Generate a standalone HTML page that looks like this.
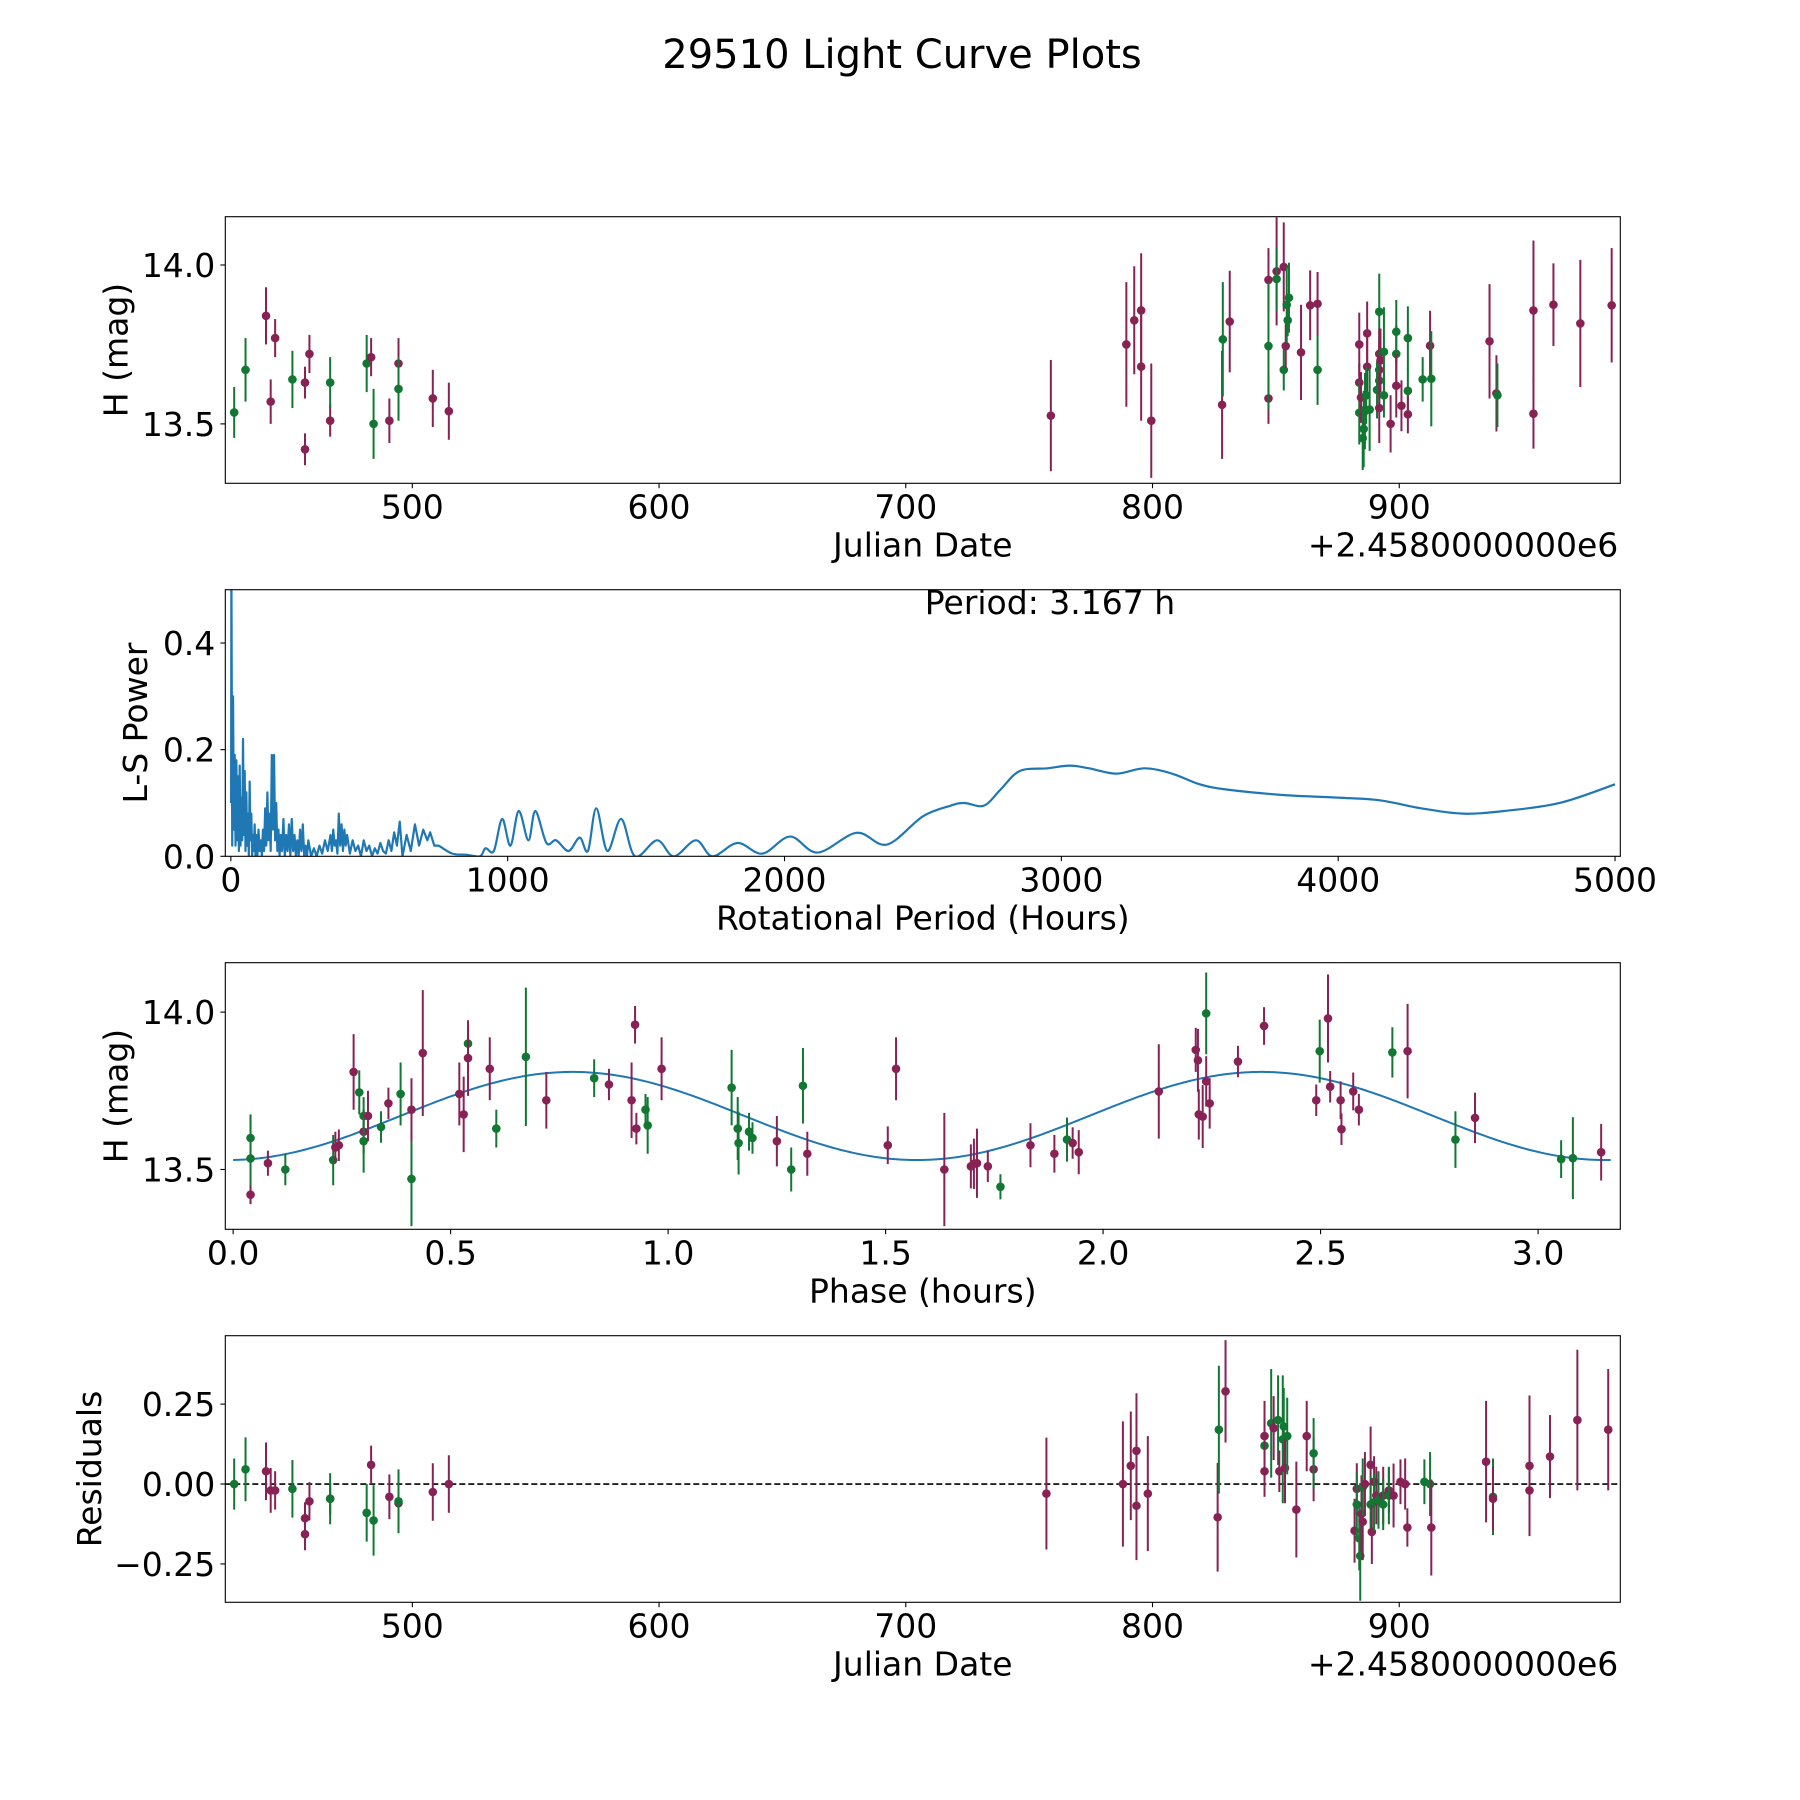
<!DOCTYPE html>
<html><head><meta charset="utf-8"><title>29510 Light Curve Plots</title>
<style>
html,body{margin:0;padding:0;background:#fff;}
svg{display:block;font-family:"DejaVu Sans","Liberation Sans",sans-serif;}
</style></head>
<body>
<svg id="fig" width="1800" height="1800" viewBox="0 0 1800 1800" xmlns="http://www.w3.org/2000/svg">
<rect x="0" y="0" width="1800" height="1800" fill="#fff"/>
<text x="902" y="68" font-size="40" text-anchor="middle">29510 Light Curve Plots</text>
</svg>
<script>
// ---------- Panel 1: H vs Julian Date ----------
const jd1 = [427.8,432.4,440.7,442.6,444.4,451.4,456.5,456.5,458.3,466.7,466.7,481.5,483.3,484.3,490.7,494.4,494.4,508.3,514.8,
758.8,789.4,792.6,795.4,795.4,799.5,828.2,828.5,831.3,847,847,847,850.3,850.3,853.2,853.2,854.0,854.4,855.3,854.8,860.2,863.9,866.9,866.9,
883.8,883.8,883.8,884.5,885.2,885.6,886.1,887,887,886.6,888,891.9,891.9,891.9,891.9,891,892.4,891.9,893.8,893.8,896.5,898.8,898.8,898.8,900.9,903.5,903.5,903.5,909.5,912.5,913,
936.6,939.4,939.8,954.4,954.4,962.5,973.4,986.1];
const mag1 = [13.536,13.67,13.84,13.57,13.77,13.64,13.42,13.63,13.72,13.51,13.63,13.69,13.71,13.50,13.51,13.69,13.61,13.58,13.54,
13.526,13.75,13.826,13.857,13.68,13.51,13.56,13.766,13.822,13.953,13.58,13.745,13.98,13.956,13.994,13.67,13.745,13.875,13.897,13.826,13.725,13.873,13.878,13.67,
13.75,13.63,13.535,13.583,13.455,13.484,13.54,13.785,13.68,13.59,13.545,13.853,13.72,13.67,13.636,13.607,13.70,13.55,13.727,13.59,13.50,13.79,13.72,13.62,13.557,13.77,13.604,13.53,13.64,13.746,13.642,
13.76,13.596,13.59,13.857,13.532,13.875,13.816,13.873];
const err1 = [0.08,0.1,0.09,0.07,0.06,0.09,0.05,0.05,0.06,0.05,0.08,0.09,0.06,0.11,0.07,0.08,0.1,0.09,0.09,
0.175,0.196,0.17,0.18,0.17,0.18,0.17,0.18,0.16,0.1,0.08,0.2,0.17,0.1,0.14,0.065,0.07,0.12,0.11,0.05,0.15,0.11,0.1,0.11,
0.1,0.06,0.1,0.08,0.1,0.12,0.12,0.1,0.09,0.09,0.13,0.12,0.08,0.09,0.09,0.09,0.1,0.11,0.14,0.07,0.09,0.1,0.09,0.1,0.08,0.1,0.07,0.06,0.07,0.11,0.15,
0.18,0.12,0.1,0.22,0.11,0.13,0.2,0.18];
const col1 = "ggmmmgmmmmgg mgmmgmm mmmmmmmgmmmgmgmgmgggmmmg mmgmgggmmgggmmggmmggmggmmggmgm gmmgmmmm".replace(/ /g,"");

// ---------- Panel 2: Lomb-Scargle periodogram ----------
const per2 = [1,2,5,8,11,14,17,20,23,26,29,32,35,38,41,44,47,50,53,56,59,62,65,68,71,74,77,80,83,86,89,92,96,100,104,108,112,116,120,124,128,132,136,140,144,148,152,156,160,164,168,172,176,180,185,190,195,200,205,210,215,220,225,230,235,240,245,250,255,260,265,270,275,280,290,300,310,320,330,340,350,360,365,370,375,380,385,390,395,400,405,410,415,420,430,440,450,460,470,480,490,500,510,520,530,540,550,560,570,580,590,600,610,620,635,650,665,680,695,710,720,735,
750,800,850,900,920,950,980,1010,1040,1075,1100,1140,1175,1220,1260,1290,1320,1360,1410,1460,1540,1600,1680,1740,1830,1920,2020,2120,2260,2370,2500,2600,2650,2720,2780,2850,2950,3030,3100,3200,3300,3400,3500,3600,3800,4000,4150,4300,4450,4600,4800,5000];
const pow2 = [0.1,0.55,0.02,0.3,0.05,0.19,0.02,0.18,0.03,0.15,0.01,0.17,0.02,0.11,0.03,0.22,0.04,0.16,0.01,0.12,0.02,0.08,0.0,0.14,0.03,0.08,0.0,0.04,0.01,0.06,0.0,0.04,0.0,0.05,0.01,0.03,0.0,0.05,0.01,0.09,0.02,0.12,0.03,0.08,0.01,0.19,0.05,0.19,0.03,0.1,0.01,0.05,0.0,0.04,0.01,0.07,0.0,0.04,0.01,0.06,0.0,0.07,0.01,0.04,0.0,0.03,0.0,0.05,0.01,0.06,0.0,0.02,0.0,0.03,0.0,0.015,0.0,0.02,0.005,0.03,0.01,0.04,0.01,0.05,0.02,0.03,0.005,0.08,0.02,0.06,0.01,0.05,0.02,0.04,0.005,0.03,0.01,0.02,0.0,0.03,0.01,0.02,0.0,0.015,0.005,0.025,0.01,0.005,0.03,0.01,0.045,0.02,0.065,0.0,0.04,0.01,0.06,0.02,0.05,0.03,0.045,0.02,
0.02,0.005,0.003,0.0,0.015,0.01,0.07,0.02,0.085,0.03,0.085,0.025,0.03,0.01,0.035,0.01,0.09,0.01,0.07,0.0,0.03,0.0,0.03,0.0,0.025,0.005,0.037,0.007,0.044,0.022,0.075,0.095,0.1,0.095,0.125,0.16,0.165,0.17,0.165,0.155,0.165,0.155,0.135,0.125,0.115,0.11,0.105,0.09,0.08,0.085,0.1,0.135];
const periodLabel = "Period: 3.167 h";

// ---------- Panel 3: phase-folded ----------
const phase3 = [0.04,0.04,0.04,0.08,0.12,0.23,0.235,0.243,0.277,0.29,0.30,0.30,0.30,0.31,0.34,0.357,0.385,0.41,0.41,0.436,0.52,0.53,0.54,0.54,0.59,0.605,0.673,0.72,0.83,0.864,0.916,0.924,0.927,0.948,0.953,0.985,1.146,1.16,1.162,1.186,1.194,1.25,1.283,1.31,1.32,1.505,1.524,1.635,1.696,1.703,1.71,1.735,1.764,1.833,1.888,1.917,1.93,1.944,2.128,2.213,2.218,2.22,2.229,2.237,2.237,2.245,2.31,2.37,2.49,2.498,2.517,2.522,2.546,2.548,2.575,2.588,2.665,2.70,2.81,2.855,3.053,3.08,3.145];
const mag3 = [13.60,13.535,13.42,13.52,13.50,13.53,13.57,13.577,13.81,13.745,13.67,13.62,13.59,13.67,13.635,13.71,13.74,13.47,13.69,13.87,13.74,13.675,13.9,13.854,13.82,13.63,13.858,13.72,13.79,13.77,13.72,13.96,13.63,13.69,13.64,13.82,13.76,13.63,13.584,13.62,13.60,13.59,13.50,13.766,13.55,13.577,13.82,13.50,13.51,13.518,13.52,13.51,13.445,13.577,13.55,13.595,13.584,13.555,13.748,13.88,13.847,13.675,13.668,13.996,13.78,13.71,13.843,13.956,13.72,13.876,13.98,13.763,13.72,13.628,13.748,13.69,13.872,13.876,13.595,13.664,13.533,13.536,13.555];
const err3 = [0.07,0.14,0.03,0.04,0.05,0.08,0.05,0.05,0.12,0.07,0.06,0.07,0.1,0.08,0.05,0.05,0.1,0.15,0.1,0.2,0.1,0.12,0.05,0.12,0.1,0.06,0.22,0.09,0.06,0.05,0.12,0.06,0.05,0.05,0.09,0.1,0.12,0.1,0.1,0.06,0.05,0.08,0.07,0.12,0.07,0.06,0.1,0.18,0.07,0.08,0.11,0.05,0.04,0.07,0.06,0.07,0.05,0.07,0.15,0.07,0.1,0.08,0.1,0.13,0.08,0.08,0.05,0.06,0.05,0.1,0.14,0.05,0.06,0.05,0.06,0.05,0.08,0.15,0.09,0.08,0.06,0.13,0.09];
const col3 = "ggmmggmmmggmgmgmggmmmmgmmggmgmmmmggmgggggmggmmmmmmmmgmmgmmmmmmmgmmmmmgmmmmmmgmgmgg".slice(0,83);
const modelMean = [13.67];
const modelAmp = [0.14];
const modelPeak = [0.78];
const modelPeriod = [1.5835];

// ---------- Panel 4: residuals ----------
const jd4 = [427.8,432.4,440.7,442.6,444.4,451.4,456.5,456.5,458.3,466.7,466.7,481.5,483.3,484.3,490.7,494.4,494.4,508.3,514.8,
757,788,791.2,793.5,793.5,798.1,826.4,826.9,829.6,845.4,845.4,845.4,848.1,849.1,850.9,851.4,852.8,853.2,853.7,854.6,858.3,862.5,865.3,865.3,
881.9,882.8,882.8,883.8,884.2,884.7,885.2,885.2,886.1,888.4,888.4,888.9,889.8,889.8,890.7,891.6,893.5,893.5,895.8,895.8,897.7,900.5,902.4,903.3,910.2,912.5,913,
935.2,938,938,952.8,952.8,961.1,972.2,984.7];
const res4 = [0.0,0.046,0.04,-0.02,-0.02,-0.015,-0.157,-0.107,-0.054,-0.046,-0.046,-0.09,0.06,-0.114,-0.04,-0.06,-0.054,-0.025,0.0,
-0.03,0.0,0.057,0.104,-0.068,-0.03,-0.104,0.17,0.29,0.12,0.15,0.04,0.19,0.175,0.2,0.04,0.14,0.18,0.05,0.15,-0.08,0.15,0.046,0.096,
-0.146,-0.015,-0.064,-0.17,-0.225,-0.093,-0.118,-0.01,0.0,0.06,-0.064,-0.15,0.007,-0.057,-0.036,-0.05,-0.036,-0.064,-0.02,-0.036,-0.036,0.007,0.0,-0.136,0.007,0.0,-0.136,
0.07,-0.04,-0.046,0.057,-0.02,0.086,0.2,0.17];
const err4 = [0.08,0.1,0.09,0.07,0.06,0.09,0.05,0.05,0.06,0.05,0.08,0.09,0.06,0.11,0.07,0.08,0.1,0.09,0.09,
0.175,0.196,0.17,0.18,0.17,0.18,0.17,0.2,0.16,0.1,0.11,0.08,0.17,0.1,0.14,0.065,0.2,0.12,0.11,0.12,0.15,0.11,0.1,0.11,
0.1,0.08,0.1,0.1,0.14,0.12,0.12,0.09,0.1,0.12,0.09,0.1,0.08,0.09,0.09,0.09,0.09,0.08,0.07,0.09,0.1,0.07,0.08,0.06,0.07,0.1,0.15,
0.19,0.12,0.1,0.22,0.13,0.13,0.22,0.19];
const col4 = "ggmmmgmmmmgg mgmmgmm mmmmmmmgmgmmgmgmggmgmmmgm mgggmmgmmgmmgmgmgmgmmmmg gmmgmmmm".replace(/ /g,"");

// ---------- rendering ----------
const NS = "http://www.w3.org/2000/svg";
const svg = document.getElementById("fig");
const COLORS = {g:"#117733", m:"#882255"};
const FS = 33;
function el(tag, attrs, parent){
  const e = document.createElementNS(NS, tag);
  for (const k in attrs) e.setAttribute(k, attrs[k]);
  (parent||svg).appendChild(e);
  return e;
}
function makeAxes(name, box, xlim, ylim, xticks, xfmt, yticks, yfmt, xlabel, ylabel, ylabelX){
  const g = el("g", {});
  
  
  const sx = v => box.l + (v - xlim[0]) / (xlim[1]-xlim[0]) * (box.r - box.l);
  const sy = v => box.b - (v - ylim[0]) / (ylim[1]-ylim[0]) * (box.b - box.t);
  const plot = el("g", {}, g);
  
  
  const clipId = name + "-clip";
  const cp = el("clipPath", {id: clipId}, g);
  el("rect", {x: box.l, y: box.t, width: box.r-box.l, height: box.b-box.t}, cp);
  plot.setAttribute("clip-path", "url(#"+clipId+")");
  const axg = el("g", {}, g);
  
  
  xticks.forEach(v => {
    const x = sx(v);
    el("line", {x1:x, x2:x, y1:box.b, y2:box.b+4.9, stroke:"#000", "stroke-width":1.1}, axg);
    const t = el("text", {x:x, y:box.b+35, "font-size":FS, "text-anchor":"middle"}, axg);
    
    
    t.textContent = xfmt(v);
  });
  yticks.forEach(v => {
    const y = sy(v);
    el("line", {x1:box.l-4.9, x2:box.l, y1:y, y2:y, stroke:"#000", "stroke-width":1.1}, axg);
    const t = el("text", {x:box.l-10, y:y+12, "font-size":FS, "text-anchor":"end"}, axg);
    
    
    t.textContent = yfmt(v);
  });
  const xl = el("text", {x:(box.l+box.r)/2, y:box.b+73, "font-size":FS, "text-anchor":"middle"}, axg);
  
  
  xl.textContent = xlabel;
  const yc = (box.t+box.b)/2;
  const yl = el("text", {x:ylabelX, y:yc, "font-size":FS, "text-anchor":"middle", "dominant-baseline":"central", transform:"rotate(-90 "+ylabelX+" "+yc+")"}, axg);
  
  
  yl.textContent = ylabel;
  const frame = el("rect", {x:box.l, y:box.t, width:box.r-box.l, height:box.b-box.t, fill:"none", stroke:"#000", "stroke-width":1.1}, g);
  
  
  return {g, plot, sx, sy, box, axg};
}
function errPoints(ax, xs, ys, es, cols, label){
  for (let i=0;i<xs.length;i++){
    const c = COLORS[cols[i]] || COLORS.m;
    const x = ax.sx(xs[i]);
    const ln = el("line", {x1:x, x2:x, y1:ax.sy(ys[i]-es[i]), y2:ax.sy(ys[i]+es[i]), stroke:c, "stroke-width":2}, ax.plot);
    
    
    const p = el("circle", {cx:x, cy:ax.sy(ys[i]), r:4.3, fill:c}, ax.plot);
    
    
  }
}
function offsetText(ax){
  const t = el("text", {x:ax.box.r-2, y:ax.box.b+73, "font-size":FS, "text-anchor":"end"}, ax.axg);
  
  
  t.textContent = "+2.4580000000e6";
}
const L = 225.3, R = 1620.3, H = 266.6;
const f0 = v => String(v), f1 = v => v.toFixed(1), f2 = v => (v<0?"\u2212":"") + Math.abs(v).toFixed(2);

// panel 1
const a1 = makeAxes("light-curve-panel", {l:L, r:R, t:216.7, b:216.7+H}, [424.2, 989.6], [13.313, 14.152],
  [500,600,700,800,900], f0, [13.5,14.0], f1, "Julian Date", "H (mag)", 116);
offsetText(a1);
errPoints(a1, jd1, mag1, err1, col1, "magnitude");

// panel 2
const a2 = makeAxes("periodogram-panel", {l:L, r:R, t:589.7, b:589.7+H}, [-20, 5019], [0, 0.5],
  [0,1000,2000,3000,4000,5000], f0, [0.0,0.2,0.4], f1, "Rotational Period (Hours)", "L-S Power", 135.5);
(function(){
  const pts = per2.map((p,i)=>[a2.sx(p), a2.sy(pow2[i])]);
  const split = per2.findIndex(p => p >= 740);
  let d = "M" + pts[0][0].toFixed(2) + "," + pts[0][1].toFixed(2);
  for (let i=1;i<pts.length;i++){
    if (i <= split) { d += " L" + pts[i][0].toFixed(2) + "," + pts[i][1].toFixed(2); continue; }
    const p0 = pts[i-2] || pts[i-1], p1 = pts[i-1], p2 = pts[i], p3 = pts[i+1] || pts[i];
    const c1 = [p1[0] + (p2[0]-p0[0])/6, p1[1] + (p2[1]-p0[1])/6];
    const c2 = [p2[0] - (p3[0]-p1[0])/6, p2[1] - (p3[1]-p1[1])/6];
    d += " C" + c1[0].toFixed(2)+","+c1[1].toFixed(2)+" "+c2[0].toFixed(2)+","+c2[1].toFixed(2)+" "+p2[0].toFixed(2)+","+p2[1].toFixed(2);
  }
  const line = el("path", {d:d, fill:"none", stroke:"#1f77b4", "stroke-width":2.2, "stroke-linejoin":"round"}, a2.plot);
  
  
  const t = el("text", {x:1050, y:614, "font-size":FS, "text-anchor":"middle"}, a2.g);
  
  
  t.textContent = periodLabel;
})();

// panel 3
const a3 = makeAxes("phase-fold-panel", {l:L, r:R, t:962.7, b:962.7+H}, [-0.018, 3.189], [13.31, 14.157],
  [0,0.5,1.0,1.5,2.0,2.5,3.0], f1, [13.5,14.0], f1, "Phase (hours)", "H (mag)", 116);
(function(){
  let d = "";
  const n = 400, pmax = 2*modelPeriod[0];
  for (let i=0;i<=n;i++){
    const p = pmax*i/n;
    const m = modelMean[0] + modelAmp[0]*Math.cos(2*Math.PI*(p-modelPeak[0])/modelPeriod[0]);
    d += (i?" L":"M") + a3.sx(p).toFixed(2) + "," + a3.sy(m).toFixed(2);
  }
  const line = el("path", {d:d, fill:"none", stroke:"#1f77b4", "stroke-width":2}, a3.plot);
  
  
})();
errPoints(a3, phase3, mag3, err3, col3, "phase");

// panel 4
const a4 = makeAxes("residuals-panel", {l:L, r:R, t:1335.7, b:1335.7+H}, [424.2, 989.6], [-0.37, 0.464],
  [500,600,700,800,900], f0, [-0.25,0,0.25], f2, "Julian Date", "Residuals", 89.6);
offsetText(a4);
(function(){
  const z = el("line", {x1:L, x2:R, y1:a4.sy(0), y2:a4.sy(0), stroke:"#000", "stroke-width":1.6, "stroke-dasharray":"6,3"}, a4.plot);
  
  
})();
errPoints(a4, jd4, res4, err4, col4, "residual");
</script>
</body></html>
